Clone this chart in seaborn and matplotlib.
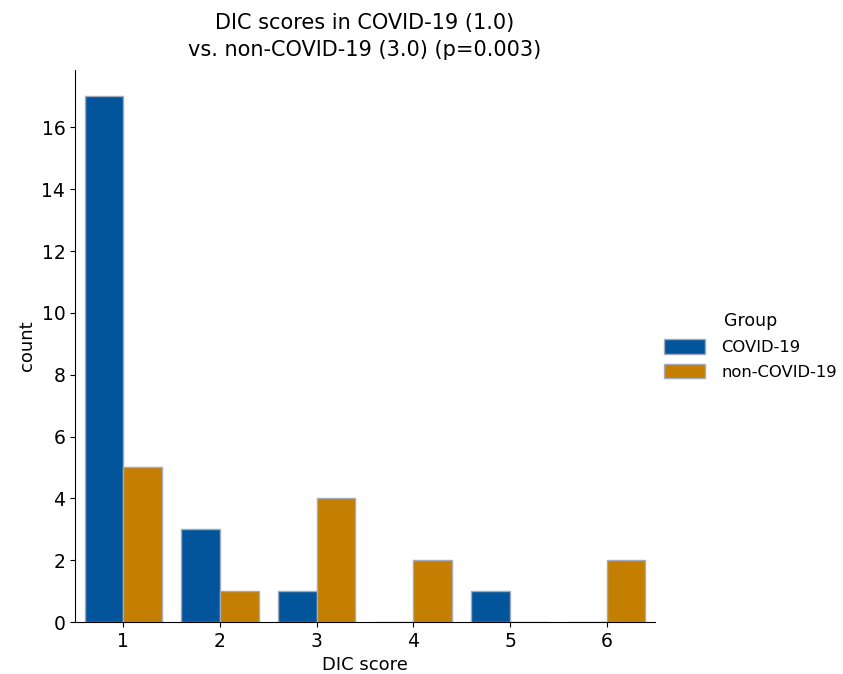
import matplotlib
matplotlib.use('Agg')
import matplotlib.pyplot as plt
import pandas as pd
import seaborn as sns

scores = [1, 2, 3, 4, 5, 6]
covid_counts = [17, 3, 1, 0, 1, 0]
noncovid_counts = [5, 1, 4, 2, 0, 2]
groups = ['COVID-19', 'non-COVID-19']
colors = ['#02559a', '#c47f00']

df = pd.DataFrame({
    'DIC score': scores * 2,
    'count': covid_counts + noncovid_counts,
    'Group': [groups[0]] * len(scores) + [groups[1]] * len(scores),
})

plt.rcParams['font.family'] = ['DejaVu Sans']

fig = plt.figure(figsize=(8.43, 6.74), dpi=100)
ax = fig.add_axes([0.089, 0.077, 0.688, 0.819])

sns.barplot(data=df, x='DIC score', y='count', hue='Group', hue_order=groups,
            palette=colors, edgecolor='#a3aabb', linewidth=1.0, width=0.8,
            saturation=1, ax=ax)

sns.despine(ax=ax)
ax.set_ylim(0, 17.85)
ax.set_yticks([0, 2, 4, 6, 8, 10, 12, 14, 16])
ax.tick_params(labelsize=13.5)
ax.set_xlabel('DIC score', fontsize=13)
ax.set_ylabel('count', fontsize=13)
ax.set_title('DIC scores in COVID-19 (1.0)\nvs. non-COVID-19 (3.0) (p=0.003)',
             fontsize=15, linespacing=1.45, pad=10)

leg = ax.legend(title='Group', frameon=False, loc='center left',
                bbox_to_anchor=(0.99, 0.5), fontsize=11.8, title_fontsize=12.5,
                handlelength=2.5, handleheight=0.95, handletextpad=1.0,
                labelspacing=0.55)

fig.savefig('out.png', dpi=100)
